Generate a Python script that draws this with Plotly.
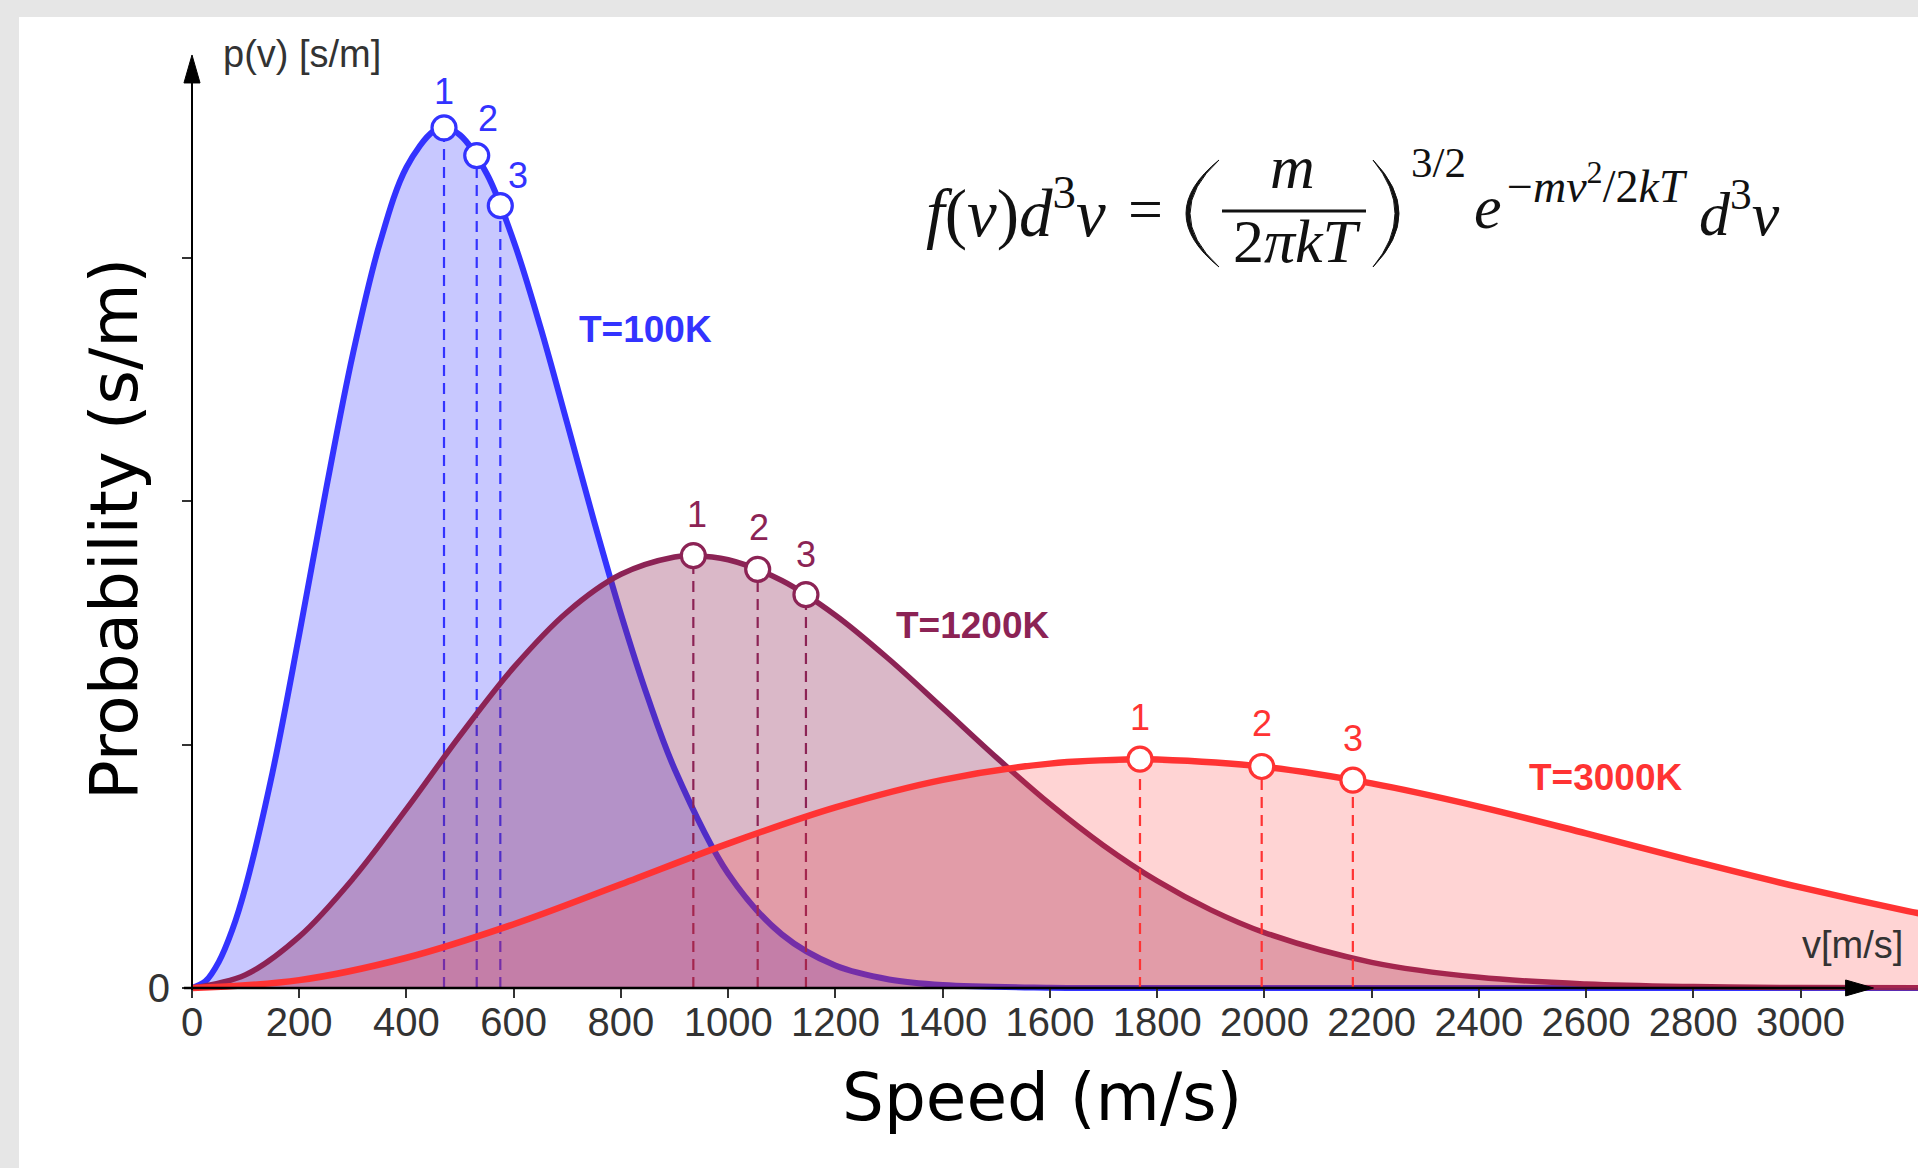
import plotly.graph_objects as go

W, H = 1918, 1168

# ---------------- data ----------------
series_names = ["T=100K", "T=1200K", "T=3000K"]

speed_100K = [0, 25, 50, 75, 100, 150, 200, 250, 300, 350, 400, 450, 470, 500, 550, 600, 650,
              700, 750, 800, 850, 900, 1000, 1100, 1200, 1300, 1400, 1600, 2000, 2500, 3000, 3300]
p_100K = [0, 0.0000136, 0.0000537, 0.000119, 0.000208, 0.000442, 0.000726, 0.001024, 0.001302,
          0.001529, 0.001686, 0.001760, 0.001767, 0.001752, 0.001672, 0.001534, 0.001357,
          0.001159, 0.000958, 0.000768, 0.000597, 0.000450, 0.000235, 0.000110, 0.000046,
          0.0000175, 0.000006, 0.0000005, 0, 0, 0, 0]

speed_1200K = [0, 100, 200, 300, 400, 500, 600, 700, 800, 900, 935, 1000, 1100, 1200, 1300,
               1400, 1500, 1600, 1700, 1800, 1900, 2000, 2200, 2400, 2600, 2800, 3000, 3300]
p_1200K = [0, 0.0000273, 0.0001055, 0.0002242, 0.0003679, 0.0005186, 0.0006585, 0.0007724,
           0.0008498, 0.0008854, 0.0008880, 0.0008796, 0.0008371, 0.0007658, 0.0006752,
           0.0005750, 0.0004737, 0.0003781, 0.0002928, 0.0002199, 0.0001604, 0.0001138,
           0.0000527, 0.0000219, 0.0000082, 0.0000028, 0.0000008, 0]

speed_3000K = [0, 200, 400, 600, 800, 1000, 1200, 1400, 1600, 1768, 1800, 2000, 2200, 2400,
               2600, 2800, 3000, 3200, 3300]
p_3000K = [0, 0.0000161, 0.0000621, 0.0001310, 0.0002130, 0.0002966, 0.0003710, 0.0004276,
           0.0004609, 0.0004696, 0.0004693, 0.0004543, 0.0004202, 0.0003726, 0.0003176,
           0.0002607, 0.0002065, 0.0001580, 0.0001365]

# characteristic speeds: 1 = most probable, 2 = mean, 3 = rms
marker_labels = ["1", "2", "3"]
mark_speed_100K = [470, 531, 575]
mark_p_100K = [0.001767, 0.001710, 0.001607]
mark_speed_1200K = [935, 1055, 1145]
mark_p_1200K = [0.000888, 0.000860, 0.000808]
mark_speed_3000K = [1768, 1995, 2165]
mark_p_3000K = [0.000470, 0.000455, 0.000427]

# curve name labels (data coordinates)
name_label_speed = [845, 1457, 2637]
name_label_p = [0.001352, 0.000744, 0.000433]

x_tick_values = [0, 200, 400, 600, 800, 1000, 1200, 1400, 1600, 1800, 2000, 2200, 2400,
                 2600, 2800, 3000]
x_tick_labels = ["0", "200", "400", "600", "800", "1000", "1200", "1400", "1600", "1800",
                 "2000", "2200", "2400", "2600", "2800", "3000"]
y_tick_values = [0]
y_tick_labels = ["0"]
y_minor_step = 0.0005

# ---------------- styles ----------------
line_colors = ["#3333ff", "#8c2355", "#ff3333"]
line_widths = [6, 5.5, 6.5]
fill_colors = ["rgba(51,51,255,0.27)", "rgba(140,35,85,0.32)", "rgba(255,51,51,0.21)"]
label_shift = [[(0, 36), (11, 37), (18, 30)],
               [(4, 41), (1, 42), (0, 40)],
               [(0, 42), (0, 43), (0, 42)]]

PX_PER_UNIT = 0.5362
X_RANGE = [-(192 - 160) / PX_PER_UNIT, 3219]
Y_RANGE = [-0.0000247, 0.0019679]


def paper(px, py):
    return px / W, 1 - py / H


fig = go.Figure()

curves = [(speed_100K, p_100K, mark_speed_100K, mark_p_100K),
          (speed_1200K, p_1200K, mark_speed_1200K, mark_p_1200K),
          (speed_3000K, p_3000K, mark_speed_3000K, mark_p_3000K)]

annotations = []
for i, (xs, ys, mx, my) in enumerate(curves):
    fig.add_trace(go.Scatter(
        x=xs, y=ys, mode="lines", fill="tozeroy", fillcolor=fill_colors[i],
        line=dict(color=line_colors[i], width=line_widths[i], shape="spline", smoothing=1.0),
        name=series_names[i], hoverinfo="skip"))
    dx, dy = [], []
    for v, p in zip(mx, my):
        dx += [v, v, None]
        dy += [0, p, None]
    fig.add_trace(go.Scatter(
        x=dx, y=dy, mode="lines",
        line=dict(color=line_colors[i], width=2.2, dash="11px,7px"), hoverinfo="skip"))
    fig.add_trace(go.Scatter(
        x=mx, y=my, mode="markers",
        marker=dict(size=24, color="white", line=dict(color=line_colors[i], width=3.2)),
        hoverinfo="skip"))
    for j, (v, p) in enumerate(zip(mx, my)):
        sx, sy = label_shift[i][j]
        annotations.append(dict(
            x=v, y=p, xref="x", yref="y", text=marker_labels[j], showarrow=False,
            xshift=sx, yshift=sy, xanchor="center", yanchor="middle",
            font=dict(family="Liberation Sans, Arial, sans-serif", size=36,
                      color=line_colors[i])))
    annotations.append(dict(
        x=name_label_speed[i], y=name_label_p[i], xref="x", yref="y",
        text="<b>" + series_names[i] + "</b>", showarrow=False,
        xanchor="center", yanchor="middle",
        font=dict(family="Liberation Sans, Arial, sans-serif", size=37,
                  color=line_colors[i])))

# axis labels drawn inside the chart
ax_font = dict(family="Liberation Sans, Arial, sans-serif", size=38, color="#333333")
x0, y0 = paper(302, 54)
annotations.append(dict(x=x0, y=y0, xref="paper", yref="paper", text="p(v) [s/m]",
                        showarrow=False, xanchor="center", yanchor="middle", font=ax_font))
x0, y0 = paper(1852, 945)
annotations.append(dict(x=x0, y=y0, xref="paper", yref="paper", text="v[m/s]",
                        showarrow=False, xanchor="center", yanchor="middle", font=ax_font))

# big axis titles
title_font = dict(family="DejaVu Sans, Verdana, sans-serif", size=66, color="black")
x0, y0 = paper(1042, 1097)
annotations.append(dict(x=x0, y=y0, xref="paper", yref="paper", text="Speed (m/s)",
                        showarrow=False, xanchor="center", yanchor="middle", font=title_font))
x0, y0 = paper(114, 529)
annotations.append(dict(x=x0, y=y0, xref="paper", yref="paper", text="Probability (s/m)",
                        textangle=-90, showarrow=False, xanchor="center", yanchor="middle",
                        font=title_font))

# formula
serif = "Liberation Serif, Times New Roman, serif"


def ftext(text, px, py, size, xanchor="center"):
    x, y = paper(px, py)
    annotations.append(dict(x=x, y=y, xref="paper", yref="paper", text=text, showarrow=False,
                            xanchor=xanchor, yanchor="middle",
                            font=dict(family=serif, size=size, color="#111111")))


ftext("<i>f</i>(<i>v</i>)<i>d</i><sup>3</sup><i>v</i>", 1108, 208, 67, "right")
ftext("=", 1145, 209, 62)
ftext("<i>m</i>", 1292, 167, 62)
ftext("2<i>πkT</i>", 1297, 241, 62)
ftext("3/2", 1438, 162, 43)
ftext("<i>e</i>", 1488, 207, 62)
ftext("−<i>mv</i><sup>2</sup>/2<i>kT</i>", 1597, 183, 46)
ftext("<i>d</i><sup>3</sup><i>v</i>", 1739, 209, 62)

shapes = []
# white panel
shapes.append(dict(type="rect", xref="paper", yref="paper", x0=19 / W, x1=1.0, y0=0,
                   y1=1 - 17 / H, fillcolor="white", line=dict(width=0), layer="below"))
# fraction bar
bx0, by = paper(1222, 211)
bx1, _ = paper(1366, 211)
shapes.append(dict(type="line", xref="paper", yref="paper", x0=bx0, x1=bx1, y0=by, y1=by,
                   line=dict(color="#111111", width=3)))


def paren_path(x_end, x_out, x_in, y_top, y_bot):
    # crescent-shaped bracket: ends at x_end, mid of outer edge at x_out, inner at x_in
    c_out = 2 * x_out - x_end
    c_in = 2 * x_in - x_end
    ym = (y_top + y_bot) / 2
    xt, yt = paper(x_end, y_top)
    xb, yb = paper(x_end, y_bot)
    xo, yo = paper(c_out, ym)
    xi, yi = paper(c_in, ym)
    return f"M {xt},{yt} Q {xo},{yo} {xb},{yb} Q {xi},{yi} {xt},{yt} Z"


for path in (paren_path(1219, 1186, 1190, 160, 267), paren_path(1373, 1399, 1395, 160, 267)):
    shapes.append(dict(type="path", xref="paper", yref="paper", path=path,
                       fillcolor="#111111", line=dict(color="#111111", width=1)))

# axes with arrows (data coordinates)
shapes.append(dict(type="line", xref="x", yref="y", x0=-15, x1=3100, y0=0, y1=0,
                   line=dict(color="black", width=2.5), layer="above"))
shapes.append(dict(type="path", xref="x", yref="y",
                   path="M 3136,0 L 3084,0.0000164 L 3084,-0.0000164 Z",
                   fillcolor="black", line=dict(color="black", width=1), layer="above"))
shapes.append(dict(type="line", xref="x", yref="y", x0=0, x1=0, y0=-0.000004, y1=0.00188,
                   line=dict(color="black", width=2), layer="above"))
shapes.append(dict(type="path", xref="x", yref="y",
                   path="M 0,0.0019166 L -15,0.0018591 L 15,0.0018591 Z",
                   fillcolor="black", line=dict(color="black", width=1), layer="above"))

tick_font = dict(family="Liberation Sans, Arial, sans-serif", size=40, color="#333333")

fig.update_layout(
    width=W, height=H, margin=dict(l=0, r=0, t=0, b=0),
    paper_bgcolor="#e6e6e6", plot_bgcolor="rgba(0,0,0,0)",
    showlegend=False, hovermode=False,
    annotations=annotations, shapes=shapes,
    xaxis=dict(domain=[160 / W, 1.0], range=X_RANGE, anchor="free",
               position=1 - 988 / H, showgrid=False, zeroline=False, showline=False,
               tickmode="array", tickvals=x_tick_values, ticktext=x_tick_labels,
               ticks="outside", ticklen=9, tickwidth=1.5, tickcolor="#333333",
               ticklabelstandoff=-10, tickfont=tick_font,
               automargin=False, fixedrange=True),
    yaxis=dict(domain=[1 - 1000 / H, 1 - 30 / H], range=Y_RANGE, anchor="free",
               position=192 / W, showgrid=False, zeroline=False, showline=False,
               tickmode="array", tickvals=y_tick_values, ticktext=y_tick_labels,
               ticks="outside", ticklen=10, tickwidth=1.5, tickcolor="#333333",
               minor=dict(tick0=0, dtick=y_minor_step, ticks="outside", ticklen=10,
                          tickwidth=1.5, tickcolor="#333333", showgrid=False),
               ticklabelstandoff=4, tickfont=tick_font,
               automargin=False, fixedrange=True),
)

fig.write_html("out.html", config={"displayModeBar": False},
               post_script="document.body.style.margin='0px';"
                           "document.body.style.background='#e6e6e6';")
